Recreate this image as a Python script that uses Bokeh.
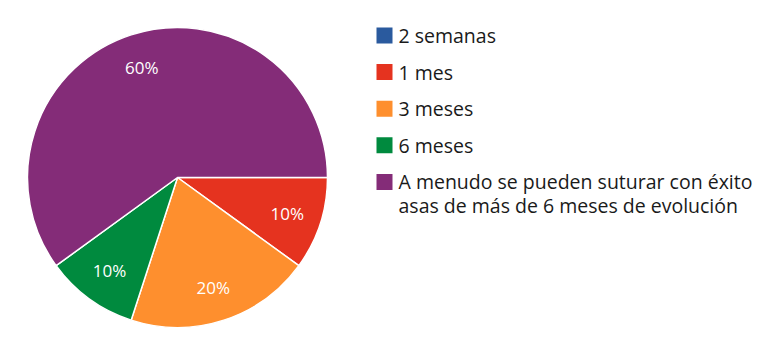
import math
from bokeh.plotting import figure
from bokeh.models import Range1d, ColumnDataSource
from bokeh.core.properties import value
from bokeh.embed import file_html
from bokeh.resources import INLINE

categories = ["2 semanas", "1 mes", "3 meses", "6 meses",
              "A menudo se pueden suturar con éxito\nasas de más de 6 meses de evolución"]
shares = [0, 10, 20, 10, 60]
colors = ["#2a5a9e", "#e5331f", "#fe8f2e", "#008a3e", "#842c78"]

W, H = 781, 351
cx, cy, R = 177, H - 177, 150
FONT = "Open Sans"

p = figure(width=W, height=H, output_backend="svg", toolbar_location=None,
           x_range=Range1d(0, W), y_range=Range1d(0, H), min_border=0)
p.axis.visible = False
p.grid.visible = False
p.outline_line_color = None
p.background_fill_color = "white"

total = sum(shares)
starts, ends, lx, ly, ltxt = [], [], [], [], []
cum = 0.0
for s in shares:
    a0 = -2 * math.pi * cum / total
    cum += s
    a1 = -2 * math.pi * cum / total
    starts.append(a0)
    ends.append(a1)
    if s > 0:
        mid = (a0 + a1) / 2
        lx.append(cx + 0.77 * R * math.cos(mid))
        ly.append(cy + 0.77 * R * math.sin(mid))
        ltxt.append(f"{s}%")

src = ColumnDataSource(dict(start=[a for a, s in zip(starts, shares) if s > 0],
                            end=[a for a, s in zip(ends, shares) if s > 0],
                            color=[c for c, s in zip(colors, shares) if s > 0]))
p.wedge(x=cx, y=cy, radius=R, start_angle="start", end_angle="end", direction="clock",
        fill_color="color", line_color="white", line_width=1.5, source=src)

p.text(x=lx, y=ly, text=ltxt, text_color="white", text_font=value(FONT),
       text_font_size="17px", text_align="center", text_baseline="middle")

# legend
lgx, lgy0, step, lh = 384, H - 35, 36.6, 24
sq_y = [lgy0 - i * step for i in range(len(categories))]
p.rect(x=[lgx] * len(categories), y=sq_y, width=16, height=16,
       fill_color=colors, line_color=None)
tx, ty, tt = [], [], []
for y, cat in zip(sq_y, categories):
    for j, line in enumerate(cat.split("\n")):
        tx.append(lgx + 14)
        ty.append(y - j * lh)
        tt.append(line)
p.text(x=tx, y=ty, text=tt,
       text_color="#1a1a1a", text_font=value(FONT), text_font_size="19.5px",
       text_align="left", text_baseline="middle")

open("out.html", "w").write(file_html(p, INLINE))
